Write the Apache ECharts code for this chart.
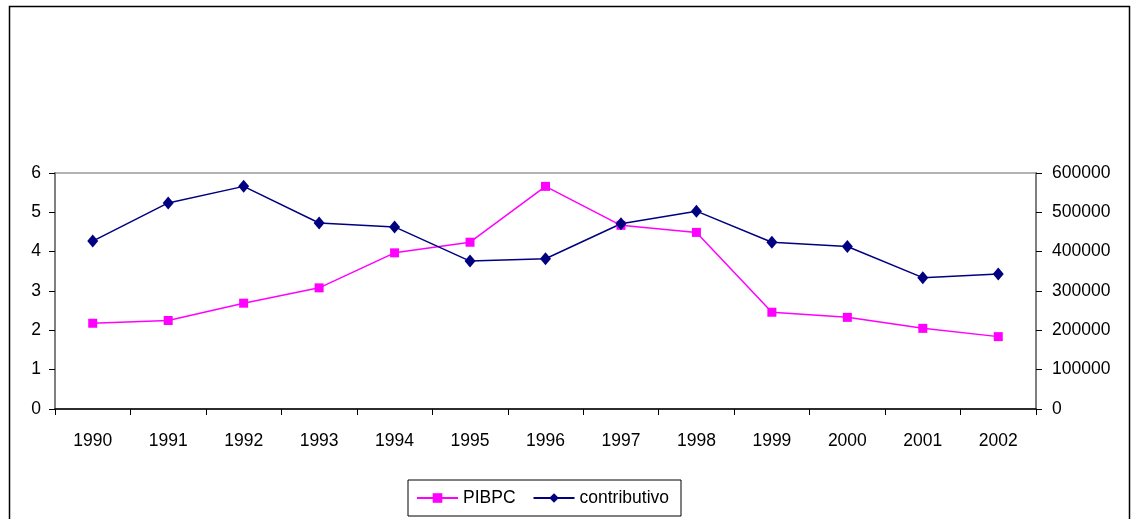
<!DOCTYPE html>
<html><head><meta charset="utf-8">
<script src="https://cdn.jsdelivr.net/npm/echarts@6/dist/echarts.min.js"></script>
<style>html,body{margin:0;padding:0;background:#fff}#c{width:1131px;height:519px}</style>
</head><body><div id="c"></div>
<script>
const categories = ['1990','1991','1992','1993','1994','1995','1996','1997','1998','1999','2000','2001','2002'];
const pibpc = [2.18, 2.25, 2.69, 3.08, 3.97, 4.24, 5.66, 4.67, 4.49, 2.46, 2.33, 2.05, 1.84];
const contributivo = [427000, 524000, 566000, 473000, 463000, 376000, 382000, 471000, 503000, 424000, 413000, 334000, 343000];
const leftTicks = [0, 6, 1];
const rightTicks = [0, 600000, 100000];

const chart = echarts.init(document.getElementById('c'));
const font = 'Liberation Sans, Arial, sans-serif';
const fs = 17.5;
chart.setOption({
  animation: false,
  backgroundColor: '#fff',
  graphic: [{
    type: 'rect', z: -1,
    shape: {x: 9.5, y: 6.5, width: 1120, height: 530},
    style: {fill: 'none', stroke: '#000', lineWidth: 1.5}
  }],
  grid: {left: 55, right: 95, top: 173, bottom: 110, show: true, borderColor: '#9a9a9a', borderWidth: 1.5, backgroundColor: 'transparent'},
  legend: {
    left: 408, top: 480,
    data: ['PIBPC', 'contributivo'],
    borderColor: '#000', borderWidth: 1, padding: [9, 12, 9, 8],
    itemWidth: 41, itemHeight: 12, itemGap: 17,
    textStyle: {fontFamily: font, fontSize: fs, color: '#000'}
  },
  xAxis: {
    type: 'category', data: categories, boundaryGap: true,
    axisLine: {lineStyle: {color: '#000', width: 1.5}},
    axisTick: {show: true, length: 6, inside: false, lineStyle: {color: '#000'}},
    axisLabel: {fontFamily: font, fontSize: fs, color: '#000', margin: 23},
    splitLine: {show: false}
  },
  yAxis: [{
    type: 'value', min: leftTicks[0], max: leftTicks[1], interval: leftTicks[2], position: 'left',
    axisLine: {show: true, lineStyle: {color: '#808080', width: 2}},
    axisTick: {show: true, length: 6, lineStyle: {color: '#000'}},
    axisLabel: {fontFamily: font, fontSize: fs, color: '#000', margin: 14},
    splitLine: {show: false}
  }, {
    type: 'value', min: rightTicks[0], max: rightTicks[1], interval: rightTicks[2], position: 'right',
    axisLine: {show: true, lineStyle: {color: '#808080', width: 2}},
    axisTick: {show: true, length: 6, lineStyle: {color: '#000'}},
    axisLabel: {fontFamily: font, fontSize: fs, color: '#000', margin: 16, formatter: v => String(v)},
    splitLine: {show: false}
  }],
  series: [{
    name: 'PIBPC', type: 'line', yAxisIndex: 0, data: pibpc,
    symbol: 'rect', symbolSize: 9,
    lineStyle: {color: '#FF00FF', width: 1.5},
    itemStyle: {color: '#FF00FF'}
  }, {
    name: 'contributivo', type: 'line', yAxisIndex: 1, data: contributivo,
    symbol: 'diamond', symbolSize: [11, 13],
    lineStyle: {color: '#000080', width: 1.5},
    itemStyle: {color: '#000080'}
  }]
});
</script></body></html>
